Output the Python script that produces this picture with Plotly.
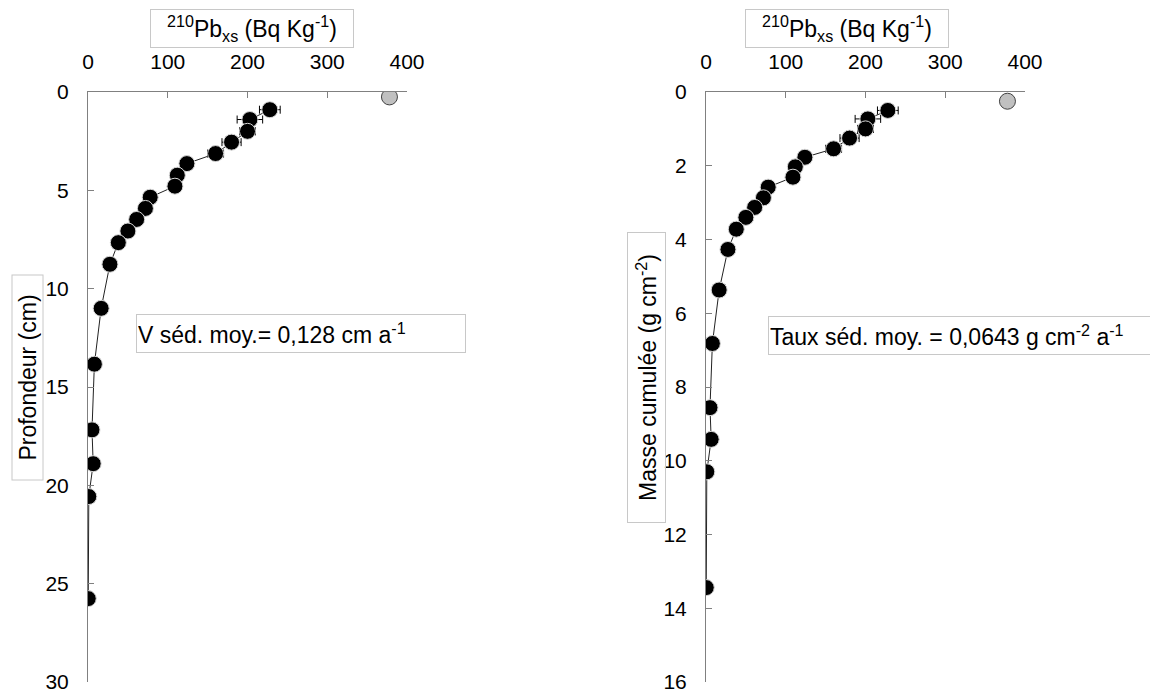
import plotly.graph_objects as go

# ---- data ----
pb_xs = [228, 203, 200, 180, 160, 124, 112, 109, 78, 72, 61, 50, 38, 27.5, 16.5, 8, 5, 6.5, 1, 0.3]
pb_err = [13, 16, 10, 12, 10, 6, 6, 5, 5, 4, 4, 3, 3, 3, 2, 2, 2, 2, 2, 2]
depth_cm = [0.9, 1.40, 2.0, 2.55, 3.13, 3.64, 4.23, 4.79, 5.35, 5.92, 6.48, 7.07, 7.66, 8.76,
            11.0, 13.84, 17.18, 18.9, 20.57, 25.76]
mass_gcm2 = [0.5, 0.73, 1.0, 1.25, 1.54, 1.77, 2.03, 2.31, 2.58, 2.87, 3.13, 3.40, 3.72, 4.27,
             5.37, 6.82, 8.56, 9.42, 10.3, 13.44]
surface_pb = [378]
surface_depth = [0.25]
surface_mass = [0.25]

x_ticks = [0, 100, 200, 300, 400]
depth_ticks = [0, 5, 10, 15, 20, 25, 30]
mass_ticks = [0, 2, 4, 6, 8, 10, 12, 14, 16]

W, H = 1150, 693
FONT = "Liberation Sans, Arial, sans-serif"

fig = go.Figure()


def px_x(p):
    return p / W


def px_y(p):
    return 1 - p / H


left_dom = [px_x(88), px_x(407)]
right_dom = [px_x(706), px_x(1025)]
y_dom = [px_y(682), px_y(92)]

panels = [
    ("x", "y", depth_cm, surface_depth),
    ("x2", "y2", mass_gcm2, surface_mass),
]

for xa, ya, yv, ys in panels:
    fig.add_trace(go.Scatter(x=pb_xs, y=yv, mode="lines",
                             line=dict(color="#222222", width=1),
                             xaxis=xa, yaxis=ya, showlegend=False, hoverinfo="skip"))
    fig.add_trace(go.Scatter(x=pb_xs, y=yv, mode="markers",
                             error_x=dict(type="data", array=pb_err, color="black",
                                          thickness=1, width=4),
                             marker=dict(color="black", size=16,
                                         line=dict(color="#d8d8d8", width=1)),
                             xaxis=xa, yaxis=ya, showlegend=False))
    fig.add_trace(go.Scatter(x=surface_pb, y=ys, mode="markers",
                             marker=dict(color="#c0c0c0", size=16,
                                         line=dict(color="#404040", width=1)),
                             xaxis=xa, yaxis=ya, showlegend=False))

axis_common = dict(showline=True, linecolor="#808080", linewidth=1,
                   ticks="inside", ticklen=6, tickcolor="#808080", tickwidth=1,
                   showgrid=False, zeroline=False, ticklabeloverflow="allow",
                   automargin=False,
                   tickfont=dict(family=FONT, size=21, color="black"))

fig.update_layout(
    xaxis=dict(domain=left_dom, range=[0, 400], side="top", anchor="y",
               tickvals=x_ticks, ticklabelstandoff=14, **axis_common),
    yaxis=dict(domain=y_dom, range=[30, 0], anchor="x",
               tickvals=depth_ticks, ticklabelstandoff=14, **axis_common),
    xaxis2=dict(domain=right_dom, range=[0, 400], side="top", anchor="y2",
                tickvals=x_ticks, ticklabelstandoff=14, **axis_common),
    yaxis2=dict(domain=y_dom, range=[16, 0], anchor="x2",
                tickvals=mass_ticks, ticklabelstandoff=14, **axis_common),
    width=W, height=H,
    margin=dict(l=0, r=0, t=0, b=0, pad=0, autoexpand=False),
    paper_bgcolor="white", plot_bgcolor="white",
    font=dict(family=FONT, size=21, color="black"),
)

box = dict(bordercolor="#c8c8c8", borderwidth=1, showarrow=False,
           xref="paper", yref="paper", font=dict(family=FONT, size=23, color="black"))

title_txt = "<sup>210</sup>Pb<sub>xs</sub> (Bq Kg<sup>-1</sup>)"
fig.add_annotation(text=title_txt, x=px_x(252), y=px_y(29), xanchor="center", yanchor="middle",
                   width=200, height=35, **box)
fig.add_annotation(text=title_txt, x=px_x(847), y=px_y(29), xanchor="center", yanchor="middle",
                   width=200, height=35, **box)
fig.add_annotation(text="Profondeur (cm)", x=px_x(27.5), y=px_y(378), xanchor="center",
                   yanchor="middle", textangle=-90, width=202, height=28, **box)
fig.add_annotation(text="Masse cumulée (g cm<sup>-2</sup>)", x=px_x(646), y=px_y(378),
                   xanchor="center", yanchor="middle", textangle=-90, width=287, height=35, **box)
fig.add_annotation(text="V séd. moy.= 0,128 cm a<sup>-1</sup>", x=px_x(136), y=px_y(333),
                   xanchor="left", yanchor="middle", align="left", width=326, height=35, **box)
fig.add_annotation(text="Taux séd. moy. = 0,0643 g cm<sup>-2</sup> a<sup>-1</sup>", x=px_x(768),
                   y=px_y(335), xanchor="left", yanchor="middle", align="left",
                   width=392, height=35, **box)

fig.write_html("out.html",
               post_script="document.body.style.margin='0';document.body.style.padding='0';"
                           "document.documentElement.style.overflow='hidden';")
